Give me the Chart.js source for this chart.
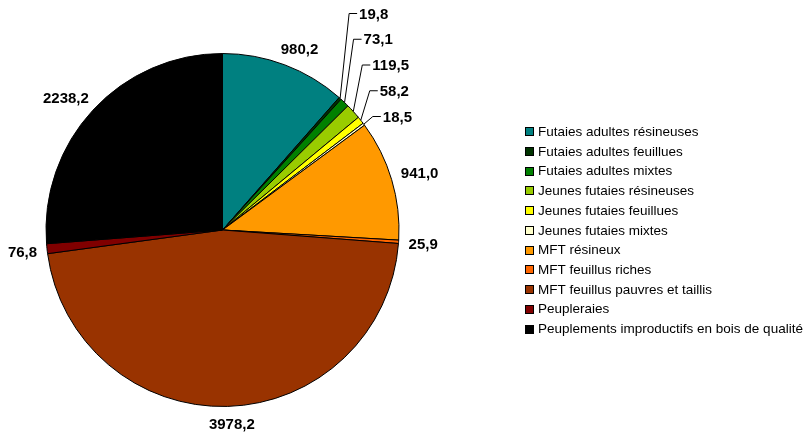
<!DOCTYPE html>
<html>
<head>
<meta charset="utf-8">
<script src="https://cdn.jsdelivr.net/npm/chart.js@4/dist/chart.umd.min.js"></script>
<style>
  html, body { margin: 0; padding: 0; background: #fff; }
  #wrap { position: relative; width: 806px; height: 432px; }
</style>
</head>
<body>
<div id="wrap"><canvas id="c" width="806" height="432"></canvas></div>
<script>
// Surfaces par type de peuplement
const categories = [
  'Futaies adultes résineuses',
  'Futaies adultes feuillues',
  'Futaies adultes mixtes',
  'Jeunes futaies résineuses',
  'Jeunes futaies feuillues',
  'Jeunes futaies mixtes',
  'MFT résineux',
  'MFT feuillus riches',
  'MFT feuillus pauvres et taillis',
  'Peupleraies',
  'Peuplements improductifs en bois de qualité'
];
const values = [980.2, 19.8, 73.1, 119.5, 58.2, 18.5, 941.0, 25.9, 3978.2, 76.8, 2238.2];
const colors = ['#008080', '#003300', '#008000', '#99CC00', '#FFFF00', '#FFFFCC',
                '#FF9900', '#FF6600', '#993300', '#800000', '#000000'];

// thin slices whose labels are stacked above the pie with leader lines
const leaderIndices = [1, 2, 3, 4, 5];

const fmt = v => v.toFixed(1).replace('.', ',');
const soft = v => Math.sign(v) * Math.sqrt(Math.abs(v));

const labelPlugin = {
  id: 'sliceLabels',
  afterDatasetsDraw(chart) {
    const ctx = chart.ctx;
    const meta = chart.getDatasetMeta(0);
    ctx.save();
    ctx.font = 'bold 15px "Liberation Sans", Arial, sans-serif';
    ctx.fillStyle = '#000';
    ctx.strokeStyle = '#000';
    ctx.lineWidth = 1;
    let k = 0;
    meta.data.forEach((arc, i) => {
      const p = arc.getProps(['x', 'y', 'startAngle', 'endAngle', 'outerRadius'], true);
      const mid = (p.startAngle + p.endAngle) / 2;
      const dx = Math.cos(mid), dy = Math.sin(mid);
      const r = p.outerRadius;
      const text = fmt(values[i]);
      if (leaderIndices.includes(i)) {
        const ex = p.x + r * dx, ey = p.y + r * dy;
        const ly = p.y - r - 40 + k * 25.75;
        const lx = ex + 9;
        ctx.beginPath();
        ctx.moveTo(ex, ey);
        ctx.lineTo(lx, ly);
        ctx.lineTo(lx + 8, ly);
        ctx.stroke();
        ctx.textAlign = 'left';
        ctx.textBaseline = 'middle';
        ctx.fillText(text, lx + 10, ly + 1);
        k++;
      } else {
        const w = ctx.measureText(text).width;
        const h = 14;
        const ax = p.x + (r + 10) * dx, ay = p.y + (r + 10) * dy;
        const cx = ax + (w / 2) * soft(dx), cy = ay + (h / 2) * soft(dy);
        ctx.textAlign = 'center';
        ctx.textBaseline = 'middle';
        ctx.fillText(text, cx, cy + 1);
      }
    });
    ctx.restore();
  },
  afterDraw(chart) {
    // legend on the right
    const ctx = chart.ctx;
    ctx.save();
    ctx.font = '13.5px "Liberation Sans", Arial, sans-serif';
    ctx.textAlign = 'left';
    ctx.textBaseline = 'middle';
    categories.forEach((name, i) => {
      const y = 131.7 + i * 19.73;
      ctx.fillStyle = colors[i];
      ctx.fillRect(525.5, Math.round(y - 4.5) + 0.5, 8, 8);
      ctx.strokeStyle = '#000';
      ctx.lineWidth = 1;
      ctx.strokeRect(525.5, Math.round(y - 4.5) + 0.5, 8, 8);
      ctx.fillStyle = '#000';
      ctx.fillText(name, 538, y + 0.5);
    });
    ctx.restore();
  }
};

new Chart(document.getElementById('c'), {
  type: 'pie',
  data: {
    labels: categories,
    datasets: [{
      data: values,
      backgroundColor: colors,
      borderColor: '#000',
      borderWidth: 1
    }]
  },
  options: {
    responsive: false,
    animation: false,
    events: [],
    layout: { padding: { left: 45.5, right: 406.5, top: 53, bottom: 25 } },
    plugins: {
      legend: { display: false },
      tooltip: { enabled: false }
    }
  },
  plugins: [labelPlugin]
});
</script>
</body>
</html>
